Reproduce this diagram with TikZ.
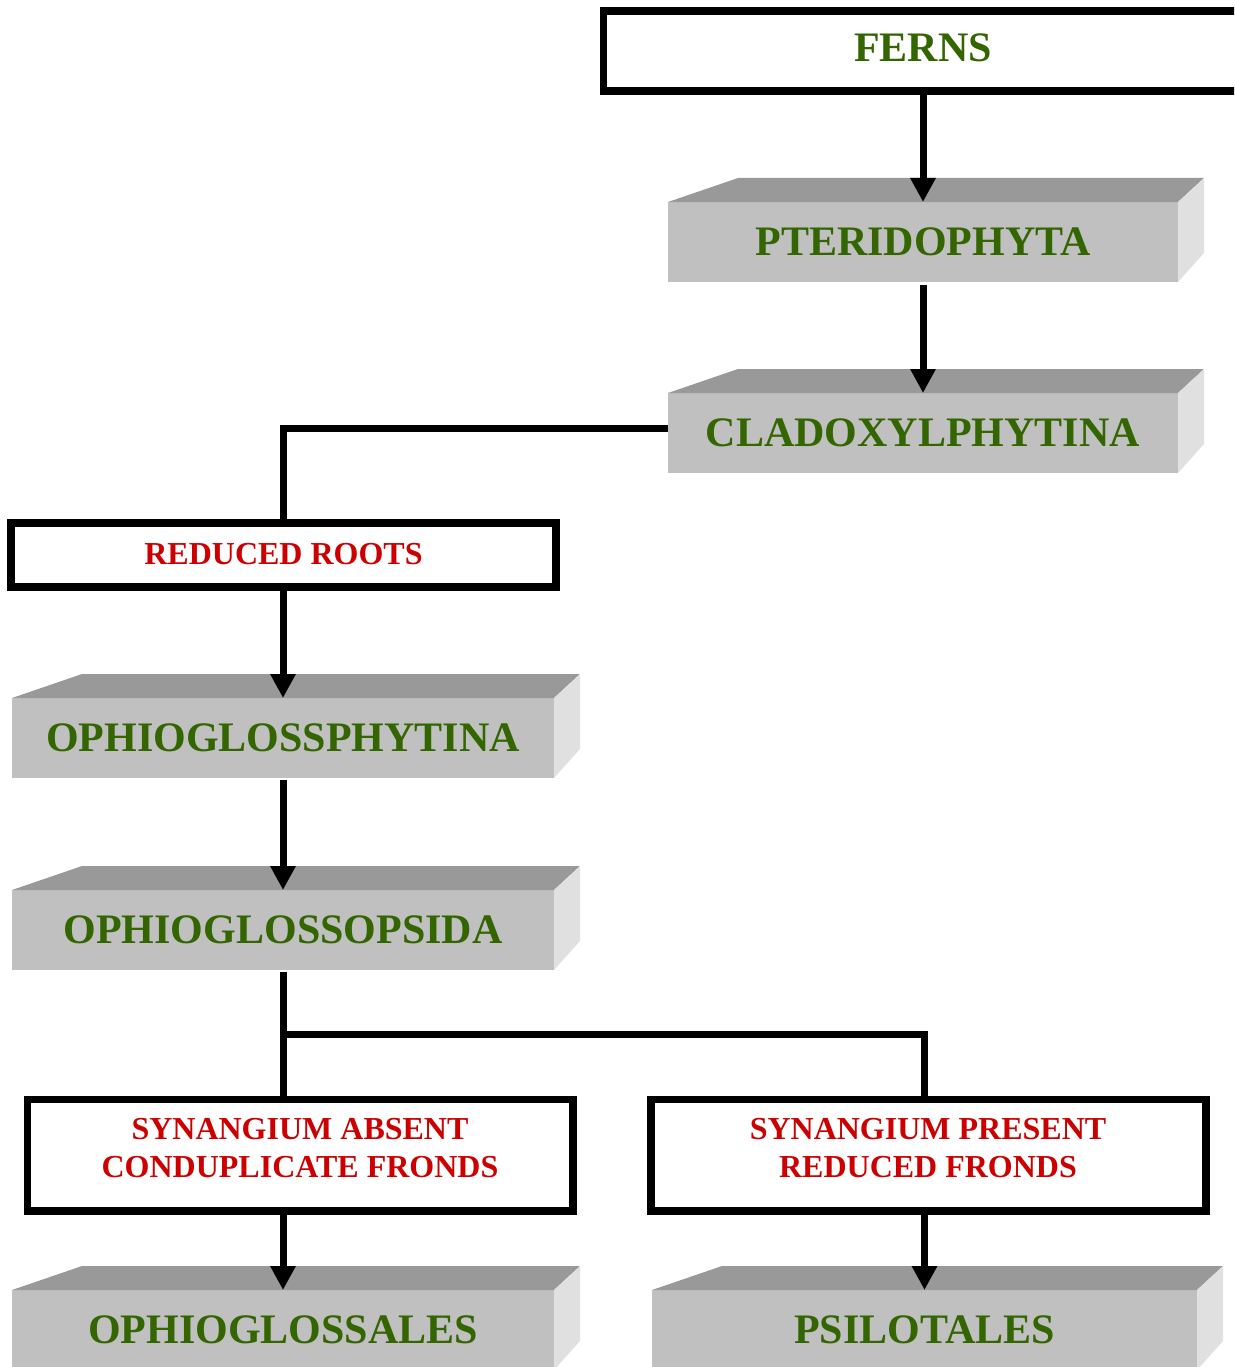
\documentclass[tikz,border=0pt]{standalone}
\usepackage{fontspec}
\setmainfont{Liberation Serif}
\usetikzlibrary{arrows.meta,calc}
\definecolor{leafgreen}{HTML}{336600}
\definecolor{tagred}{HTML}{CC0000}
\definecolor{slabfront}{HTML}{C0C0C0}
\definecolor{slabtopc}{HTML}{999999}
\definecolor{slabsidec}{HTML}{E0E0E0}
\tikzset{
  slab/.style={rectangle, fill=slabfront, inner sep=0pt, outer sep=0pt, minimum height=80pt,
    text=leafgreen, font=\fontsize{42}{42}\selectfont\bfseries},
  slabtop/.style={fill=slabtopc},
  slabside/.style={fill=slabsidec},
  tagbox/.style={rectangle, draw=black, line width=7.5pt, fill=white, inner sep=0pt, outer sep=0pt},
  greentxt/.style={text=leafgreen, font=\fontsize{42}{42}\selectfont\bfseries},
  redtxt/.style={text=tagred, align=center, font=\fontsize{32}{38}\selectfont\bfseries},
  conn/.style={line width=7pt, draw=black},
  arr/.style={conn, -{Triangle[length=24pt,width=24pt]}}
}
\newcommand\slabbox[4]{%
  \node[slab, minimum width=#3] (#1) at (#2) {#4};
  \fill[slabtop] (#1.north west) -- ++(70,-24) -- ([shift={(26,-24)}]#1.north east) -- (#1.north east) -- cycle;
  \fill[slabside] (#1.north east) -- ++(26,-24) -- ++(0,75) -- (#1.south east) -- cycle;
}
\begin{document}
\begin{tikzpicture}[x=1pt,y=-1pt]
\useasboundingbox (0,0) rectangle (1234,1367);
\clip (0,0) rectangle (1234,1367);
\fill[white] (0,0) rectangle (1234,1367);

% outlined boxes
\node[tagbox, minimum width=639pt, minimum height=80pt] (ferns) at (923,51) {};
\node[greentxt] (fernstxt) at (923,48) {FERNS};

\node[tagbox, minimum width=545pt, minimum height=64pt] (roots) at (283.5,555) {};
\node[redtxt] (rootstxt) at (283.5,554) {REDUCED ROOTS};

\node[tagbox, minimum width=545.5pt, minimum height=111.5pt] (synA) at (300.25,1155.25) {};
\node[redtxt] (synAtxt) at (300,1148.5) {SYNANGIUM ABSENT\\CONDUPLICATE FRONDS};

\node[tagbox, minimum width=555pt, minimum height=111.5pt] (synP) at (928.5,1155.25) {};
\node[redtxt] (synPtxt) at (928,1148.5) {SYNANGIUM PRESENT\\REDUCED FRONDS};

% 3D slabs
\slabbox{pter}{923,242}{510pt}{PTERIDOPHYTA}
\slabbox{clado}{923,433}{510pt}{CLADOXYLPHYTINA}
\slabbox{ophy}{283,738}{542pt}{OPHIOGLOSSPHYTINA}
\slabbox{ophs}{283,930}{542pt}{OPHIOGLOSSOPSIDA}
\slabbox{ophl}{283,1330}{542pt}{OPHIOGLOSSALES}
\slabbox{psil}{924.5,1330}{545pt}{PSILOTALES}

% connectors
\draw[arr] (ferns.south) -- (pter.north);
\draw[arr] ([yshift=-3pt]pter.south) -- (clado.north);
\draw[conn] ([yshift=5pt]clado.west) -| (roots.north -| ophy.north);
\draw[arr] (roots.south -| ophy.north) -- (ophy.north);
\draw[arr] ([yshift=-2pt]ophy.south) -- (ophs.north);
\coordinate (split) at (283,1034);
\draw[conn] ([yshift=-2pt]ophs.south) -- (synA.north -| ophs.south);
\draw[conn] (split) -| (synP.north -| psil.north);
\draw[arr] (synA.south -| ophl.north) -- (ophl.north);
\draw[arr] (synP.south -| psil.north) -- (psil.north);
\end{tikzpicture}
\end{document}
